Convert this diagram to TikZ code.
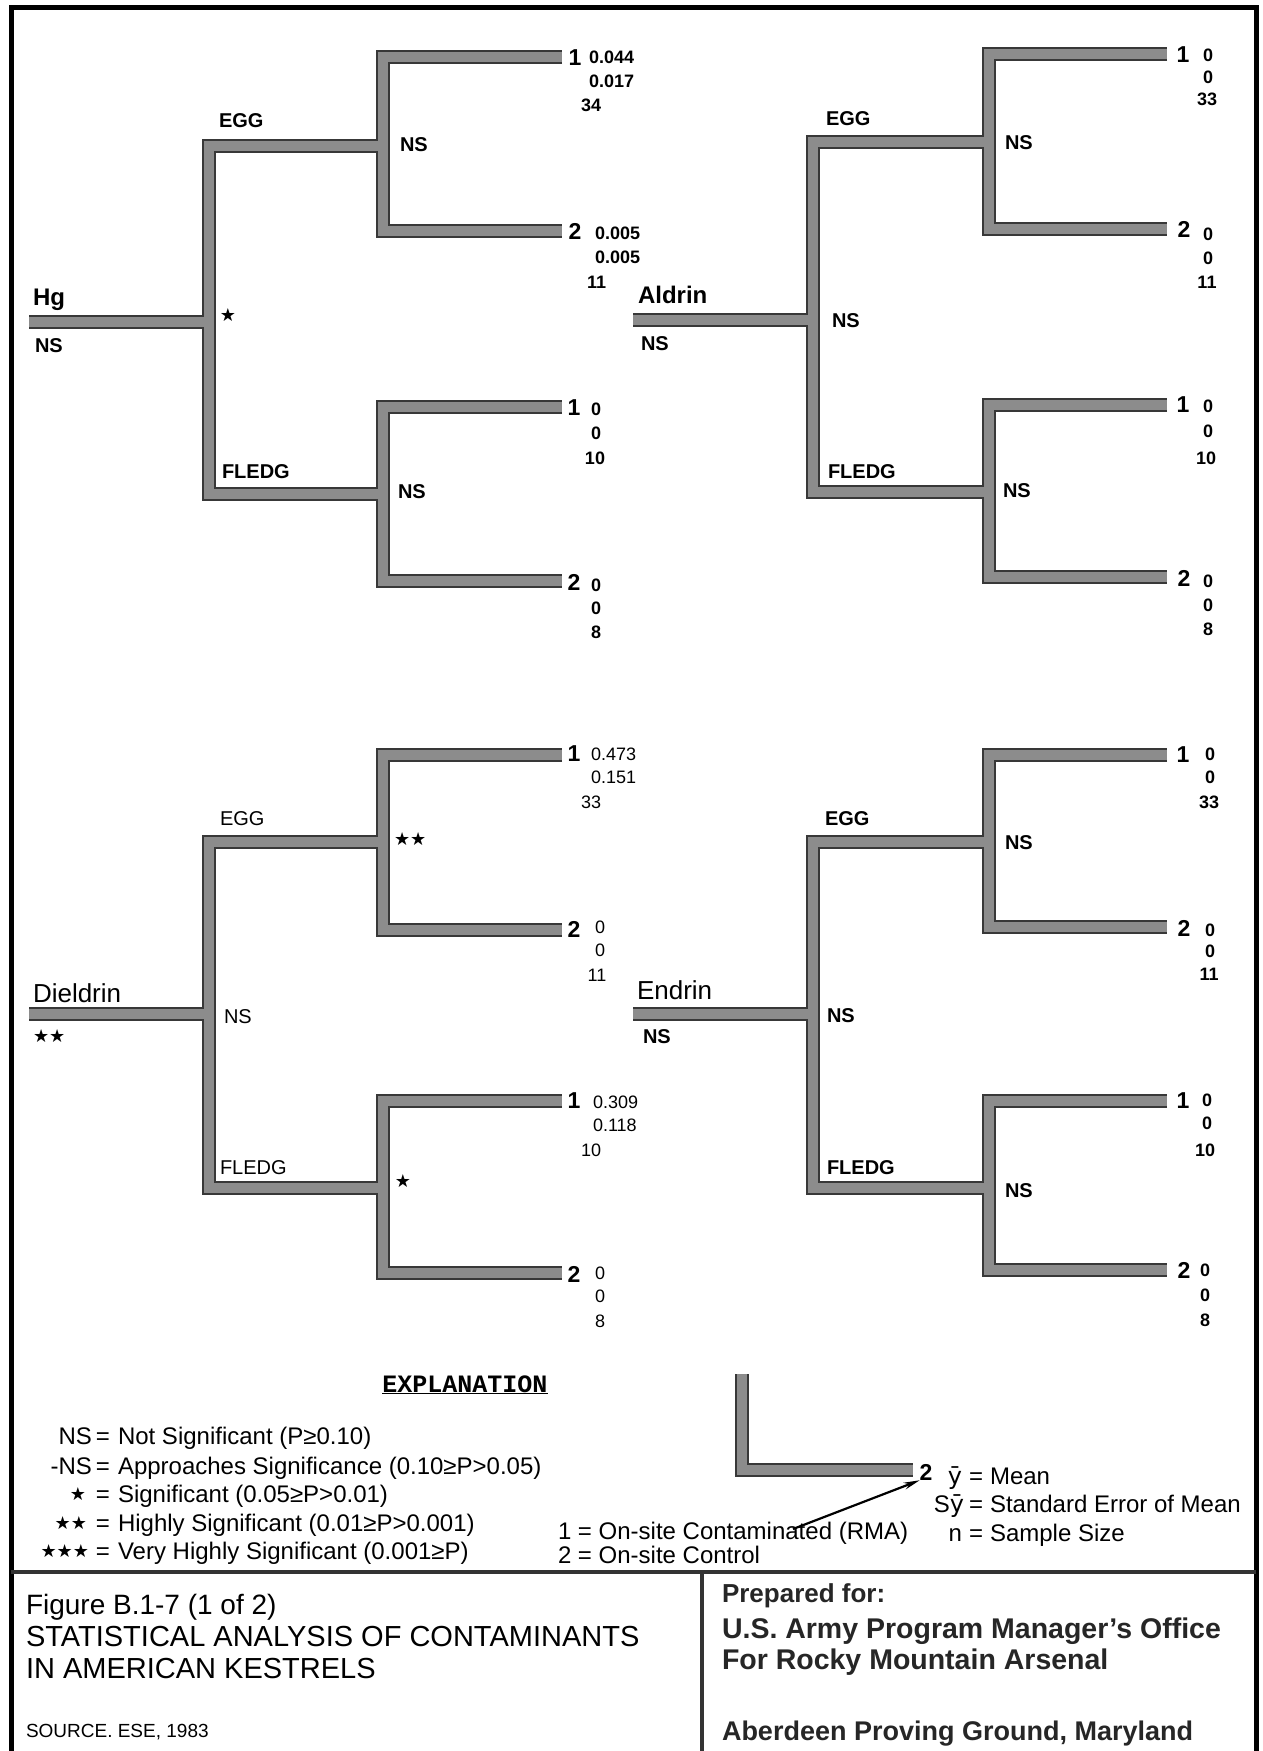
\documentclass[tikz,border=0pt]{standalone}
\usepackage{fontspec}
\setmainfont{Liberation Sans}
\newfontfamily\dejavu{DejaVu Sans}
\newfontfamily\monofnt{Liberation Mono}
\usetikzlibrary{arrows.meta}
\newcommand\treebars[2]{%
  \draw[#2] (#1-r) -- (#1-j);
  \draw[#2] (#1-e) -| (#1-j) |- (#1-f);
  \draw[#2] (#1-e1) -| (#1-e) |- (#1-e2);
  \draw[#2] (#1-f1) -| (#1-f) |- (#1-f2);
}
\begin{document}
\begin{tikzpicture}[x=1pt,y=-1pt,
  tnode/.style={inner sep=0pt, outer sep=0pt},
  sz/.style={tnode, font=\fontsize{#1}{#1}\selectfont, yshift={-0.36*#1*1pt}},
  szb/.style={sz=#1, font=\fontsize{#1}{#1}\selectfont\bfseries},
  starnode/.style={tnode, font=\dejavu\fontsize{18}{18}\selectfont, yshift=-6.3pt},
  barout/.style={draw=black!78, line width=14.5pt, line join=miter},
  barin/.style={draw=black!45, line width=9.5pt, line join=miter},
  framestyle/.style={draw=black, line width=5pt},
  rulestyle/.style={draw=black!80, line width=4.5pt},
  arw/.style={draw=black, line width=2.2pt, -{Stealth[length=16pt,width=7pt]}},
]
\path[use as bounding box] (0,0) rectangle (1263,1751);
\fill[white] (0,0) rectangle (1263,1751);

% ---------- frame ----------
\coordinate (fr-tl) at (11,7);
\coordinate (fr-tr) at (1256,7);
\coordinate (fr-bl) at (11,1751);
\coordinate (fr-br) at (1256,1751);
\draw[framestyle] (fr-bl) -- (fr-tl) -- (fr-tr) -- (fr-br);
\coordinate (sep-l) at (11,1572);
\coordinate (sep-r) at (1256,1572);
\draw[rulestyle] (sep-l) -- (sep-r);
\coordinate (div-t) at (702,1572);
\coordinate (div-b) at (702,1751);
\draw[rulestyle, line width=4pt] (div-t) -- (div-b);

% ---------- tree coordinates ----------
% Hg
\coordinate (hg-r) at (29,322);   \coordinate (hg-j) at (209,322);
\coordinate (hg-e) at (383,146);  \coordinate (hg-f) at (383,494);
\coordinate (hg-e1) at (562,57);  \coordinate (hg-e2) at (562,231);
\coordinate (hg-f1) at (562,407); \coordinate (hg-f2) at (562,581);
% Aldrin
\coordinate (al-r) at (633,320);   \coordinate (al-j) at (813,320);
\coordinate (al-e) at (989,142);   \coordinate (al-f) at (989,492);
\coordinate (al-e1) at (1167,54);  \coordinate (al-e2) at (1167,229);
\coordinate (al-f1) at (1167,405); \coordinate (al-f2) at (1167,577);
% Dieldrin
\coordinate (di-r) at (29,1014);   \coordinate (di-j) at (209,1014);
\coordinate (di-e) at (383,842);   \coordinate (di-f) at (383,1188);
\coordinate (di-e1) at (562,755);  \coordinate (di-e2) at (562,930);
\coordinate (di-f1) at (562,1101); \coordinate (di-f2) at (562,1273);
% Endrin
\coordinate (en-r) at (633,1014);   \coordinate (en-j) at (813,1014);
\coordinate (en-e) at (989,842);    \coordinate (en-f) at (989,1188);
\coordinate (en-e1) at (1167,755);  \coordinate (en-e2) at (1167,927);
\coordinate (en-f1) at (1167,1101); \coordinate (en-f2) at (1167,1270);
% legend bracket
\coordinate (lg-top) at (742,1374);
\coordinate (lg-end) at (913,1470);

\treebars{hg}{barout}\treebars{al}{barout}\treebars{di}{barout}\treebars{en}{barout}
\draw[barout] (lg-top) |- (lg-end);
\treebars{hg}{barin}\treebars{al}{barin}\treebars{di}{barin}\treebars{en}{barin}
\draw[barin] (lg-top) |- (lg-end);

% ---------- Hg ----------
\node[szb=24, anchor=base west] (hg-name) at (33,297) {Hg};
\node[szb=20, anchor=base west] (hg-sig) at (35,345) {NS};
\node[starnode, anchor=base] (hg-star) at (228,315) {★};
\node[szb=20, anchor=base west] (hg-egg) at (219,120) {EGG};
\node[szb=20, anchor=base west] (hg-ens) at (400,144) {NS};
\node[szb=20, anchor=base west] (hg-fl) at (222,471) {FLEDG};
\node[szb=20, anchor=base west] (hg-fns) at (398,491) {NS};
\node[szb=23, anchor=base] (hg-n1) at (575,57) {1};
\node[szb=18, anchor=base west] (hg-a1) at (589,57) {0.044};
\node[szb=18, anchor=base west] (hg-a2) at (589,81) {0.017};
\node[szb=18, anchor=base west] (hg-a3) at (581,105) {34};
\node[szb=23, anchor=base] (hg-n2) at (575,231) {2};
\node[szb=18, anchor=base west] (hg-b1) at (595,233) {0.005};
\node[szb=18, anchor=base west] (hg-b2) at (595,257) {0.005};
\node[szb=18, anchor=base west] (hg-b3) at (587,282) {11};
\node[szb=23, anchor=base] (hg-n3) at (574,407) {1};
\node[szb=18, anchor=base] (hg-c1) at (596,409) {0};
\node[szb=18, anchor=base] (hg-c2) at (596,433) {0};
\node[szb=18, anchor=base] (hg-c3) at (595,458) {10};
\node[szb=23, anchor=base] (hg-n4) at (574,582) {2};
\node[szb=18, anchor=base] (hg-d1) at (596,585) {0};
\node[szb=18, anchor=base] (hg-d2) at (596,608) {0};
\node[szb=18, anchor=base] (hg-d3) at (596,632) {8};

% ---------- Aldrin ----------
\node[szb=24, anchor=base west] (al-name) at (638,295) {Aldrin};
\node[szb=20, anchor=base west] (al-sig) at (641,343) {NS};
\node[szb=20, anchor=base west] (al-jns) at (832,320) {NS};
\node[szb=20, anchor=base west] (al-egg) at (826,118) {EGG};
\node[szb=20, anchor=base west] (al-ens) at (1005,142) {NS};
\node[szb=20, anchor=base west] (al-fl) at (828,471) {FLEDG};
\node[szb=20, anchor=base west] (al-fns) at (1003,490) {NS};
\node[szb=23, anchor=base] (al-n1) at (1183,54) {1};
\node[szb=18, anchor=base] (al-a1) at (1208,55) {0};
\node[szb=18, anchor=base] (al-a2) at (1208,77) {0};
\node[szb=18, anchor=base] (al-a3) at (1207,99) {33};
\node[szb=23, anchor=base] (al-n2) at (1184,229) {2};
\node[szb=18, anchor=base] (al-b1) at (1208,234) {0};
\node[szb=18, anchor=base] (al-b2) at (1208,258) {0};
\node[szb=18, anchor=base] (al-b3) at (1207,282) {11};
\node[szb=23, anchor=base] (al-n3) at (1183,404) {1};
\node[szb=18, anchor=base] (al-c1) at (1208,406) {0};
\node[szb=18, anchor=base] (al-c2) at (1208,431) {0};
\node[szb=18, anchor=base] (al-c3) at (1206,458) {10};
\node[szb=23, anchor=base] (al-n4) at (1184,578) {2};
\node[szb=18, anchor=base] (al-d1) at (1208,581) {0};
\node[szb=18, anchor=base] (al-d2) at (1208,605) {0};
\node[szb=18, anchor=base] (al-d3) at (1208,629) {8};

% ---------- Dieldrin ----------
\node[sz=26, anchor=base west] (di-name) at (33,993) {Dieldrin};
\node[starnode, anchor=base west] (di-sig) at (33,1036) {★★};
\node[sz=20, anchor=base west] (di-jns) at (224,1016) {NS};
\node[sz=20, anchor=base west] (di-egg) at (220,818) {EGG};
\node[starnode, anchor=base west] (di-est) at (394,839) {★★};
\node[sz=20, anchor=base west] (di-fl) at (220,1167) {FLEDG};
\node[starnode, anchor=base] (di-fst) at (403,1181) {★};
\node[szb=23, anchor=base] (di-n1) at (574,753) {1};
\node[sz=18, anchor=base west] (di-a1) at (591,754) {0.473};
\node[sz=18, anchor=base west] (di-a2) at (591,777) {0.151};
\node[sz=18, anchor=base west] (di-a3) at (581,802) {33};
\node[szb=23, anchor=base] (di-n2) at (574,929) {2};
\node[sz=18, anchor=base] (di-b1) at (600,927) {0};
\node[sz=18, anchor=base] (di-b2) at (600,950) {0};
\node[sz=18, anchor=base] (di-b3) at (597,975) {11};
\node[szb=23, anchor=base] (di-n3) at (574,1100) {1};
\node[sz=18, anchor=base west] (di-c1) at (593,1102) {0.309};
\node[sz=18, anchor=base west] (di-c2) at (593,1125) {0.118};
\node[sz=18, anchor=base west] (di-c3) at (581,1150) {10};
\node[szb=23, anchor=base] (di-n4) at (574,1274) {2};
\node[sz=18, anchor=base] (di-d1) at (600,1273) {0};
\node[sz=18, anchor=base] (di-d2) at (600,1296) {0};
\node[sz=18, anchor=base] (di-d3) at (600,1321) {8};

% ---------- Endrin ----------
\node[sz=26, anchor=base west] (en-name) at (637,990) {Endrin};
\node[szb=20, anchor=base west] (en-sig) at (643,1036) {NS};
\node[szb=20, anchor=base west] (en-jns) at (827,1015) {NS};
\node[szb=20, anchor=base west] (en-egg) at (825,818) {EGG};
\node[szb=20, anchor=base west] (en-ens) at (1005,842) {NS};
\node[szb=20, anchor=base west] (en-fl) at (827,1167) {FLEDG};
\node[szb=20, anchor=base west] (en-fns) at (1005,1190) {NS};
\node[szb=23, anchor=base] (en-n1) at (1183,754) {1};
\node[szb=18, anchor=base] (en-a1) at (1210,754) {0};
\node[szb=18, anchor=base] (en-a2) at (1210,777) {0};
\node[szb=18, anchor=base] (en-a3) at (1209,802) {33};
\node[szb=23, anchor=base] (en-n2) at (1184,928) {2};
\node[szb=18, anchor=base] (en-b1) at (1210,930) {0};
\node[szb=18, anchor=base] (en-b2) at (1210,951) {0};
\node[szb=18, anchor=base] (en-b3) at (1209,974) {11};
\node[szb=23, anchor=base] (en-n3) at (1183,1100) {1};
\node[szb=18, anchor=base] (en-c1) at (1207,1100) {0};
\node[szb=18, anchor=base] (en-c2) at (1207,1123) {0};
\node[szb=18, anchor=base] (en-c3) at (1205,1150) {10};
\node[szb=23, anchor=base] (en-n4) at (1184,1270) {2};
\node[szb=18, anchor=base] (en-d1) at (1205,1270) {0};
\node[szb=18, anchor=base] (en-d2) at (1205,1295) {0};
\node[szb=18, anchor=base] (en-d3) at (1205,1320) {8};

% ---------- explanation ----------
\node[sz=25, font=\monofnt\bfseries\fontsize{25}{25}\selectfont, anchor=base] (ex-title) at (465,1383) {\underline{EXPLANATION}};
\node[sz=24, anchor=base east] (ex-s1) at (92,1436) {NS};
\node[sz=24, anchor=base east] (ex-s2) at (92,1466) {-NS};
\node[starnode, anchor=base] (ex-s3) at (78,1494) {★};
\node[starnode, anchor=base east] (ex-s4) at (87,1523) {★★};
\node[starnode, anchor=base east] (ex-s5) at (89,1551) {★★★};
\node[sz=24, anchor=base] (ex-q1) at (103,1436) {=};
\node[sz=24, anchor=base] (ex-q2) at (103,1466) {=};
\node[sz=24, anchor=base] (ex-q3) at (103,1494) {=};
\node[sz=24, anchor=base] (ex-q4) at (103,1523) {=};
\node[sz=24, anchor=base] (ex-q5) at (103,1551) {=};
\node[sz=24, anchor=base west] (ex-t1) at (118,1436) {Not Significant (P≥0.10)};
\node[sz=24, anchor=base west] (ex-t2) at (118,1466) {Approaches Significance (0.10≥P>0.05)};
\node[sz=24, anchor=base west] (ex-t3) at (118,1494) {Significant (0.05≥P>0.01)};
\node[sz=24, anchor=base west] (ex-t4) at (118,1523) {Highly Significant (0.01≥P>0.001)};
\node[sz=24, anchor=base west] (ex-t5) at (118,1551) {Very Highly Significant (0.001≥P)};
\node[sz=24, anchor=base west] (ex-g1) at (558,1531) {1 = On-site Contaminated (RMA)};
\node[sz=24, anchor=base west] (ex-g2) at (558,1555) {2 = On-site Control};

% legend bracket labels
\node[szb=23, anchor=base] (lg2) at (926,1472) {2};
\node[sz=24, anchor=base east] (lg-y) at (962,1476) {\dejavu ȳ};
\node[sz=24, anchor=base east] (lg-sy) at (964,1504) {S{\dejavu ȳ}};
\node[sz=24, anchor=base east] (lg-n) at (962,1533) {n};
\node[sz=24, anchor=base] (lg-q1) at (976,1476) {=};
\node[sz=24, anchor=base] (lg-q2) at (976,1504) {=};
\node[sz=24, anchor=base] (lg-q3) at (976,1533) {=};
\node[sz=24, anchor=base west] (lg-t1) at (990,1476) {Mean};
\node[sz=24, anchor=base west] (lg-t2) at (990,1504) {Standard Error of Mean};
\node[sz=24, anchor=base west] (lg-t3) at (990,1533) {Sample Size};
\coordinate (arr-s) at (793,1529);
\draw[arw] (arr-s) -- (lg2.south west);

% ---------- title block ----------
\node[sz=28, anchor=base west] (tb-1) at (26,1604) {Figure B.1-7 (1 of 2)};
\node[sz=29, anchor=base west] (tb-2) at (26,1636) {STATISTICAL ANALYSIS OF CONTAMINANTS};
\node[sz=29, anchor=base west] (tb-3) at (26,1668) {IN AMERICAN KESTRELS};
\node[sz=19, anchor=base west] (tb-4) at (26,1731) {SOURCE. ESE, 1983};
\node[szb=26, anchor=base west, text=black!85] (pr-1) at (722,1593) {Prepared for:};
\node[szb=28.5, anchor=base west, text=black!85] (pr-2) at (722,1628) {U.S. Army Program Manager's Office};
\node[szb=28.5, anchor=base west, text=black!85] (pr-3) at (722,1659) {For Rocky Mountain Arsenal};
\node[szb=27, anchor=base west, text=black!85] (pr-4) at (722,1731) {Aberdeen Proving Ground, Maryland};
\end{tikzpicture}
\end{document}
